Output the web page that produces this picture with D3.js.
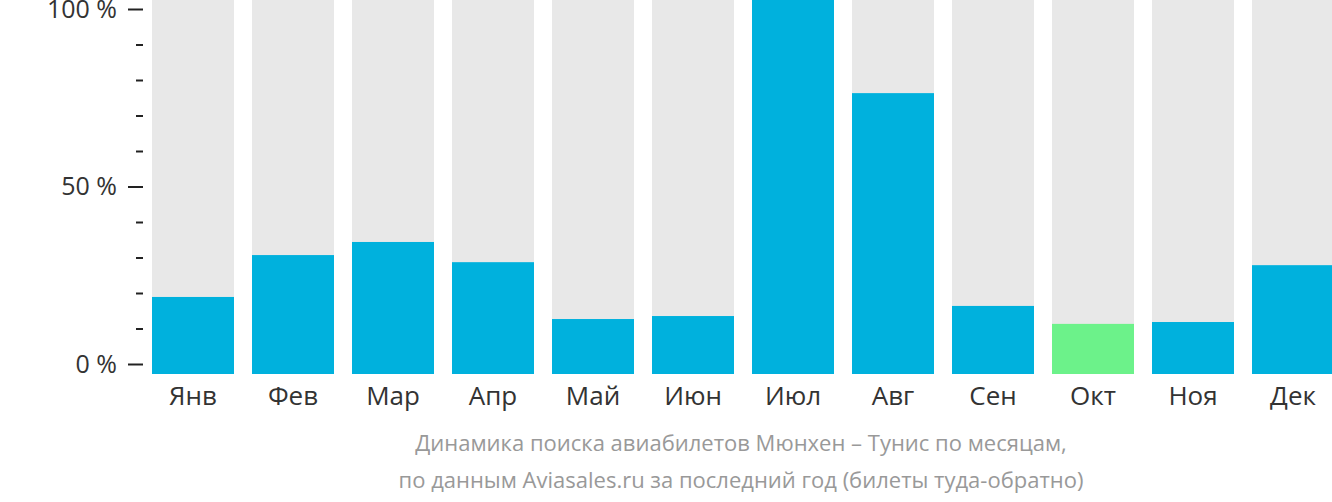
<!DOCTYPE html>
<html lang="ru">
<head>
    <meta charset="UTF-8">
    <title>Динамика поиска авиабилетов Мюнхен – Тунис</title>
    <script src="https://cdn.jsdelivr.net/npm/d3@7"></script>
    <style>
        body { margin: 0; background: #fff; }
        svg text { font-family: "Open Sans", sans-serif; }
    </style>
</head>
<body>
    <script>
        var w = 1332;
        var h = 502;

        // data
        var months = ["Янв", "Фев", "Мар", "Апр", "Май", "Июн", "Июл", "Авг", "Сен", "Окт", "Ноя", "Дек"];
        var values = [20.6, 31.8, 35.3, 29.9, 14.7, 15.5, 100, 75.1, 18.2, 13.4, 13.9, 29.1];
        var cheapest = "Окт";
        var yTicks = [0, 10, 20, 30, 40, 50, 60, 70, 80, 90, 100];
        var yLabels = [0, 50, 100];
        var caption = ["Динамика поиска авиабилетов Мюнхен – Тунис по месяцам,",
                       "по данным Aviasales.ru за последний год (билеты туда-обратно)"];

        var svg = d3.select("body").append("svg")
            .attr("width", w)
            .attr("height", h);

        var xScale = d3.scaleBand()
            .domain(months)
            .range([143, 1343])
            .paddingInner(0.18)
            .paddingOuter(0.09);

        // bars fill from top of svg down to baseline
        var barScale = d3.scaleLinear().domain([0, 100]).range([374, 0]);
        // axis scale
        var yScale = d3.scaleLinear().domain([0, 100]).range([364, 9]);

        // background bars
        svg.selectAll("rect.bg")
            .data(months)
            .enter()
            .append("rect")
            .attr("class", "bg")
            .attr("x", function(d) { return xScale(d); })
            .attr("y", barScale(100))
            .attr("width", xScale.bandwidth())
            .attr("height", barScale(0) - barScale(100))
            .attr("fill", "#e8e8e8");

        svg.selectAll("rect.val")
            .data(values)
            .enter()
            .append("rect")
            .attr("class", "val")
            .attr("x", function(d, i) { return xScale(months[i]); })
            .attr("y", function(d) { return barScale(d); })
            .attr("width", xScale.bandwidth())
            .attr("height", function(d) { return barScale(0) - barScale(d); })
            .attr("fill", function(d, i) { return months[i] === cheapest ? "#6cf28a" : "#00b1dd"; });

        // y axis
        var yAxis = d3.axisLeft(yScale)
            .tickValues(yTicks)
            .tickSize(0)
            .tickFormat(function(d) { return yLabels.indexOf(d) >= 0 ? d + " %" : ""; });

        var gy = svg.append("g")
            .attr("transform", "translate(143,0)")
            .call(yAxis);
        gy.select(".domain").remove();
        gy.selectAll(".tick line")
            .attr("x1", function(d) { return yLabels.indexOf(d) >= 0 ? -15 : -7; })
            .attr("x2", 0)
            .attr("stroke", "#222")
            .attr("stroke-width", 2);
        gy.selectAll(".tick text")
            .attr("x", -26)
            .attr("fill", "#333")
            .style("font-size", "25px");

        // x labels
        var xAxis = d3.axisBottom(xScale).tickSize(0);
        var gx = svg.append("g")
            .attr("transform", "translate(0,374)")
            .call(xAxis);
        gx.select(".domain").remove();
        gx.selectAll(".tick text")
            .attr("y", 31)
            .attr("dy", 0)
            .attr("fill", "#333")
            .style("font-size", "26px");

        // caption
        svg.selectAll("text.caption")
            .data(caption)
            .enter()
            .append("text")
            .attr("class", "caption")
            .attr("x", 741)
            .attr("y", function(d, i) { return 451 + i * 37; })
            .attr("text-anchor", "middle")
            .attr("fill", "#999")
            .style("font-size", "22px")
            .text(function(d) { return d; });
    </script>
</body>
</html>
